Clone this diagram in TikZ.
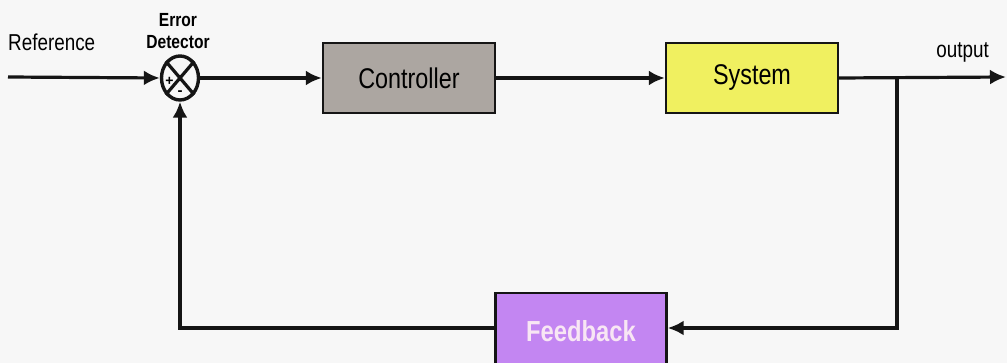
\documentclass[tikz,border=0pt]{standalone}
\usepackage{fontspec}
\setmainfont{Liberation Sans}
\usetikzlibrary{arrows.meta,shapes.geometric}
\definecolor{bg}{HTML}{F7F7F7}
\definecolor{ctrlfill}{HTML}{ACA6A1}
\definecolor{sysfill}{HTML}{F0F060}
\definecolor{fbfill}{HTML}{C386F2}
\definecolor{fbtext}{HTML}{F8E6F4}
\definecolor{ink}{HTML}{151515}
\newcommand{\narrowtxt}[1]{\scalebox{0.82}[1]{#1}}
\tikzset{
  x=1pt, y=-1pt,
  blockbox/.style={draw=ink, line width=2.4pt, minimum width=172pt, minimum height=70pt, inner sep=0pt, font=\fontsize{28.5}{30}\selectfont},
  conn/.style={draw=ink, line width=3.2pt, -{Latex[length=16pt,width=15pt]}},
}
\begin{document}
\begin{tikzpicture}
\fill[bg] (0,0) rectangle (1007,363);
\useasboundingbox (0,0) rectangle (1007,363);

\coordinate (inref) at (8,77);
\node[draw=ink, line width=3.4pt, ellipse, minimum width=37pt, minimum height=44pt, inner sep=0pt] (sum) at (180,78) {};
\draw[ink, line width=3.2pt] (sum.north west) -- (sum.south east) (sum.north east) -- (sum.south west);
\node[font=\fontsize{14}{14}\selectfont\bfseries, inner sep=0pt] (plus) at (169.5,81) {+};
\node[font=\fontsize{15}{15}\selectfont\bfseries, inner sep=0pt] (minus) at (180,93) {-};

\node[blockbox, fill=ctrlfill] (ctrl) at (409,78) {\narrowtxt{Controller}};
\node[blockbox, fill=sysfill] (sys) at (752,78) {\narrowtxt{System}};
\node[blockbox, fill=fbfill, minimum width=171pt, minimum height=76pt, text=fbtext, font=\fontsize{29}{30}\selectfont\bfseries] (fb) at (581,331) {\narrowtxt{Feedback}};

\node[font=\fontsize{23}{24}\selectfont, anchor=west, inner sep=0pt] (reflbl) at (8,42) {\narrowtxt{Reference}};
\node[font=\fontsize{19}{22}\selectfont\bfseries, align=center, inner sep=0pt] (errlbl) at (178,31) {\narrowtxt{Error}\\\narrowtxt{Detector}};
\node[font=\fontsize{23}{24}\selectfont, anchor=east, inner sep=0pt] (outlbl) at (989,52) {\narrowtxt{output}};

\coordinate (outend) at (1006,77);
\coordinate (branch) at (897,77);
\coordinate (fbright) at (897,328);
\coordinate (fbleft) at (180,328);

\draw[conn] (inref) -- (sum.west);
\draw[conn] (sum.east) -- (ctrl.west);
\draw[conn] (ctrl.east) -- (sys.west);
\draw[conn] (sys.east) -- (outend);
\draw[conn] (branch) -- (fbright) -- (fb.east |- fbright);
\draw[conn] (fb.west |- fbleft) -- (fbleft) -- (sum.south);
\end{tikzpicture}
\end{document}
